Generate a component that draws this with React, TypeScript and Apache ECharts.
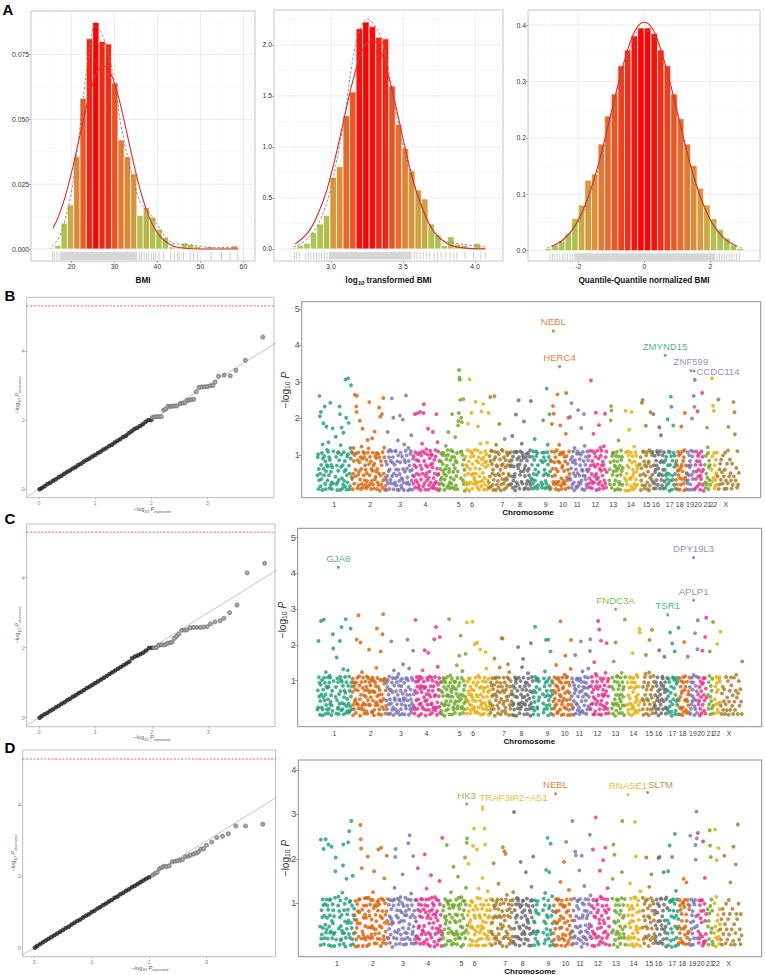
import React, { useEffect, useRef } from "react";
import * as echarts from "echarts";

const FONT = "'Liberation Sans', Arial, sans-serif";
const NARROW = "'Liberation Sans Narrow', 'Liberation Sans', Arial, sans-serif";

// ---------------- Panel A : histograms ----------------
const bmiBinStart = 14.65;
const bmiBinWidth = 1.47;
const bmiDensity = [0.0004, 0.0014, 0.010, 0.017, 0.0356, 0.058, 0.081, 0.0873, 0.080, 0.079, 0.064, 0.042, 0.0356, 0.029, 0.013, 0.016, 0.0123, 0.0077, 0.0044, 0.0008, 0.0004, 0.0023, 0.0017, 0.001, 0.0005, 0.001, 0.0002, 0.0005, 0.0006, 0.0013];
const bmiNormal = [[15.7, 0.008], [17, 0.0126], [18.5, 0.0199], [20, 0.0293], [21.5, 0.0402], [23, 0.0514], [24.5, 0.0613], [26, 0.0681], [27.5, 0.0705], [29, 0.0681], [30.5, 0.0613], [32, 0.0514], [33.5, 0.0402], [35, 0.0293], [36.5, 0.0199], [38, 0.0126], [39.5, 0.0075], [41, 0.0041], [43, 0.0017], [45, 0.0006], [48, 0.0001], [52, 0], [58.8, 0]];
const bmiKde = [[15.5, 0.001], [17, 0.004], [18.5, 0.011], [20, 0.022], [21.5, 0.040], [23, 0.062], [24.5, 0.080], [25.5, 0.086], [27, 0.083], [28.5, 0.076], [30, 0.064], [31.5, 0.048], [33, 0.036], [34.5, 0.026], [36, 0.018], [37.5, 0.015], [39, 0.012], [40.5, 0.008], [42, 0.0045], [44, 0.002], [46, 0.0018], [48, 0.0015], [50, 0.001], [53, 0.0006], [56, 0.0006], [58.5, 0.0005]];
const bmiRugTicks = [15.6, 16.0, 16.6, 17.1, 35.8, 36.3, 36.9, 37.4, 38.0, 38.6, 39.1, 39.5, 40.4, 41.4, 43.0, 44.0, 44.7, 45.2, 46.1, 47.6, 48.4, 49.4, 52.5, 54.9, 56.9, 58.7];
const bmiRugBand = [17.4, 35.3];
const bmiXTicks = [20, 30, 40, 50, 60];
const bmiXMinor = [15, 25, 35, 45, 55];
const bmiYTicks = [0, 0.025, 0.05, 0.075];
const bmiYMinor = [0.0125, 0.0375, 0.0625, 0.0875];

const logBinStart = 2.72;
const logBinWidth = 0.0454;
const logDensity = [0.013, 0.033, 0.056, 0.16, 0.245, 0.327, 0.703, 0.807, 1.307, 1.539, 2.16, 2.225, 2.18, 2.075, 2.06, 1.598, 1.222, 0.987, 0.765, 0.578, 0.49, 0.245, 0.137, 0.033, 0.12, 0.046, 0.036, 0.01, 0.056, 0.013];
const logNormal = [[2.75, 0.05], [2.85, 0.18], [2.95, 0.49], [3.0, 0.73], [3.05, 1.02], [3.1, 1.34], [3.15, 1.64], [3.2, 1.88], [3.25, 2.02], [3.3, 2.035], [3.35, 1.92], [3.4, 1.69], [3.45, 1.40], [3.5, 1.08], [3.55, 0.78], [3.6, 0.53], [3.7, 0.20], [3.8, 0.058], [3.9, 0.013], [4.07, 0.001]];
const logKde = [[2.74, 0.02], [2.8, 0.06], [2.87, 0.15], [2.93, 0.3], [3.0, 0.6], [3.05, 0.95], [3.1, 1.35], [3.15, 1.85], [3.2, 2.15], [3.25, 2.25], [3.3, 2.2], [3.35, 2.05], [3.4, 1.75], [3.45, 1.35], [3.5, 1.0], [3.55, 0.75], [3.6, 0.55], [3.65, 0.35], [3.7, 0.2], [3.75, 0.1], [3.85, 0.06], [3.95, 0.04], [4.07, 0.02]];
const logRugTicks = [2.745, 2.76, 2.78, 2.824, 2.843, 2.86, 2.88, 2.90, 2.917, 2.935, 2.954, 2.972, 3.579, 3.597, 3.618, 3.641, 3.664, 3.687, 3.715, 3.74, 3.764, 3.796, 3.826, 3.852, 3.873, 3.93, 3.99, 4.04, 4.07];
const logRugBand = [2.986, 3.56];
const logXTicks = [3.0, 3.5, 4.0];
const logXMinor = [2.75, 3.25, 3.75];
const logYTicks = [0, 0.5, 1.0, 1.5, 2.0];
const logYMinor = [0.25, 0.75, 1.25, 1.75, 2.25];

const qnBinStart = -3.0;
const qnBinWidth = 0.2;
const qnDensity = [0.004, 0.010, 0.018, 0.030, 0.057, 0.081, 0.125, 0.136, 0.189, 0.239, 0.278, 0.328, 0.356, 0.381, 0.395, 0.395, 0.385, 0.356, 0.328, 0.278, 0.234, 0.189, 0.151, 0.111, 0.081, 0.057, 0.038, 0.022, 0.010, 0.004];
const qnNormal = [[-2.8, 0.008], [-2.5, 0.0178], [-2.2, 0.036], [-2.0, 0.0548], [-1.8, 0.0802], [-1.6, 0.1125], [-1.4, 0.1514], [-1.2, 0.197], [-1.0, 0.2455], [-0.8, 0.2937], [-0.6, 0.3375], [-0.4, 0.3741], [-0.2, 0.3977], [0, 0.405], [0.2, 0.3977], [0.4, 0.3741], [0.6, 0.3375], [0.8, 0.2937], [1.0, 0.2455], [1.2, 0.197], [1.4, 0.1514], [1.6, 0.1125], [1.8, 0.0802], [2.0, 0.0548], [2.2, 0.036], [2.5, 0.0178], [2.8, 0.008]];
const qnKde = [[-2.95, 0.005], [-2.5, 0.016], [-2.1, 0.042], [-1.7, 0.09], [-1.3, 0.165], [-0.9, 0.265], [-0.5, 0.345], [-0.1, 0.392], [0.3, 0.38], [0.7, 0.315], [1.1, 0.22], [1.5, 0.13], [1.9, 0.068], [2.3, 0.03], [2.7, 0.011], [2.95, 0.005]];
const qnRugTicks = [-2.86, -2.78, -2.71, -2.64, -2.56, -2.47, -2.4, -2.33, -2.25, -2.17, 2.2, 2.28, 2.35, 2.42, 2.5, 2.57, 2.65, 2.72, 2.8, 2.88];
const qnRugBand = [-2.12, 2.15];
const qnXTicks = [-2, 0, 2];
const qnXMinor = [-3, -1, 1, 3];
const qnYTicks = [0, 0.1, 0.2, 0.3, 0.4];
const qnYMinor = [0.05, 0.15, 0.25, 0.35];

// ---------------- Panels B-D : QQ plots ----------------
const qqBDense = [[0.01, 0], [0.05, 0.04], [0.1, 0.09], [0.15, 0.15], [0.2, 0.19], [0.25, 0.25], [0.3, 0.29], [0.35, 0.35], [0.4, 0.39], [0.45, 0.45], [0.5, 0.5], [0.55, 0.54], [0.6, 0.6], [0.65, 0.64], [0.7, 0.7], [0.75, 0.74], [0.8, 0.8], [0.85, 0.85], [0.9, 0.89], [0.95, 0.95], [1.0, 0.99], [1.05, 1.05], [1.1, 1.09], [1.15, 1.15], [1.2, 1.19], [1.25, 1.25], [1.3, 1.29], [1.35, 1.35], [1.4, 1.4], [1.45, 1.45], [1.5, 1.51], [1.55, 1.55], [1.6, 1.62], [1.65, 1.68], [1.7, 1.74], [1.75, 1.78], [1.8, 1.83], [1.85, 1.88], [1.9, 1.95], [1.95, 2.0], [2.0, 2.0]];
const qqBTail = [[2.02, 2.08], [2.06, 2.09], [2.1, 2.1], [2.14, 2.1], [2.18, 2.1], [2.22, 2.29], [2.26, 2.32], [2.3, 2.4], [2.34, 2.4], [2.38, 2.4], [2.42, 2.41], [2.46, 2.41], [2.52, 2.48], [2.56, 2.49], [2.6, 2.5], [2.64, 2.57], [2.68, 2.58], [2.72, 2.59], [2.76, 2.6], [2.8, 2.82], [2.85, 2.95], [2.9, 2.96], [2.95, 2.96], [3.0, 2.97], [3.05, 2.99], [3.1, 3.0], [3.14, 3.1], [3.2, 3.27], [3.3, 3.3], [3.41, 3.28], [3.51, 3.44], [3.68, 3.73], [3.99, 4.4]];
const qqCDense = [[0.01, 0], [0.05, 0.05], [0.1, 0.1], [0.15, 0.14], [0.2, 0.2], [0.25, 0.24], [0.3, 0.3], [0.35, 0.34], [0.4, 0.4], [0.45, 0.44], [0.5, 0.5], [0.55, 0.54], [0.6, 0.6], [0.65, 0.64], [0.7, 0.7], [0.75, 0.74], [0.8, 0.79], [0.85, 0.85], [0.9, 0.89], [0.95, 0.94], [1.0, 0.99], [1.05, 1.04], [1.1, 1.09], [1.15, 1.14], [1.2, 1.19], [1.25, 1.25], [1.3, 1.3], [1.35, 1.35], [1.4, 1.4], [1.45, 1.45], [1.5, 1.5], [1.55, 1.55], [1.6, 1.6], [1.65, 1.7], [1.7, 1.75], [1.75, 1.78], [1.8, 1.82], [1.85, 1.86], [1.9, 1.92], [1.95, 1.99], [2.0, 2.0]];
const qqCTail = [[2.04, 2.0], [2.08, 2.0], [2.12, 2.07], [2.16, 2.08], [2.2, 2.08], [2.24, 2.09], [2.28, 2.13], [2.32, 2.14], [2.36, 2.16], [2.4, 2.27], [2.44, 2.33], [2.48, 2.39], [2.53, 2.5], [2.58, 2.5], [2.62, 2.51], [2.68, 2.57], [2.74, 2.58], [2.8, 2.58], [2.86, 2.58], [2.92, 2.59], [2.98, 2.6], [3.04, 2.68], [3.12, 2.74], [3.21, 2.77], [3.28, 2.84], [3.38, 3.0], [3.51, 3.22], [3.69, 4.14], [4.0, 4.41]];
const qqDDense = [[0.01, 0], [0.05, 0.05], [0.1, 0.1], [0.15, 0.15], [0.2, 0.2], [0.25, 0.25], [0.3, 0.3], [0.35, 0.35], [0.4, 0.4], [0.45, 0.45], [0.5, 0.5], [0.55, 0.55], [0.6, 0.59], [0.65, 0.65], [0.7, 0.7], [0.75, 0.75], [0.8, 0.79], [0.85, 0.85], [0.9, 0.9], [0.95, 0.94], [1.0, 1.0], [1.05, 1.04], [1.1, 1.1], [1.15, 1.14], [1.2, 1.2], [1.25, 1.24], [1.3, 1.3], [1.35, 1.34], [1.4, 1.4], [1.45, 1.44], [1.5, 1.5], [1.55, 1.54], [1.6, 1.6], [1.65, 1.64], [1.7, 1.7], [1.75, 1.74], [1.8, 1.79], [1.85, 1.84], [1.9, 1.89], [1.95, 1.94], [2.0, 1.98]];
const qqDTail = [[2.06, 2.04], [2.1, 2.08], [2.14, 2.12], [2.18, 2.22], [2.22, 2.25], [2.26, 2.29], [2.3, 2.28], [2.35, 2.3], [2.4, 2.41], [2.45, 2.43], [2.49, 2.44], [2.54, 2.46], [2.58, 2.48], [2.63, 2.55], [2.68, 2.57], [2.72, 2.6], [2.77, 2.63], [2.82, 2.66], [2.86, 2.69], [2.9, 2.77], [2.95, 2.78], [3.0, 2.88], [3.09, 2.97], [3.18, 3.09], [3.28, 3.13], [3.38, 3.2], [3.51, 3.42], [3.68, 3.42], [3.98, 3.47]];
const qqDiagonal = [[-0.5, -0.5], [4.5, 4.5]];
const suggestiveLine = 5.3;
const qqXTicks = [0, 1, 2, 3];
const qqYTicks = [0, 2, 4];

// ---------------- Panels B-D : Manhattan plots ----------------
const chromNames = ["1", "2", "3", "4", "5", "6", "7", "8", "9", "10", "11", "12", "13", "14", "15", "16", "17", "18", "19", "20", "21", "22", "X"];
const chromLengthMb = [249, 243, 198, 191, 181, 171, 159, 146, 141, 136, 135, 134, 115, 107, 103, 90, 81, 78, 59, 63, 48, 51, 155];
const chromLabelMb = [122, 381, 597, 779, 1017, 1113, 1333, 1458, 1643, 1767, 1871, 2000, 2129, 2257, 2369, 2436, 2535, 2607, 2681, 2739, 2806, 2849, 2940];
// one character per SNP along each chromosome (-log10 P):
//   digits 0-9 => bulk band 0.0-1.15 in steps of 0.115; letters a-z => 1.0-3.5 in steps of 0.1;
//   the next character's digit gives the hundredths; "." => no SNP
const CODE = "0123456789abcdefghijklmnopqrstuvwxyz";
const manhattanB = [
  "38a052qk41l6290c7i538n1704h6b259d3807o146205h19.....3e81602a4927nl0c58h3061f92471u5k0382aui6041b7s93",
  "2904b718q35anlq0739146j2805c17h0938a26150742d91b6o3817052e491606g283479052a14m80k3716l092p4b8031",
  "70263g194805b2719p368k04162a951370d85024k6913082j520c7469q185320b7160489f25037",
  "1836l092574l2a07139l60285c941ln719036b4258h03147962a0865g130741982l05d394017",
  "0527a318649140285c376098g1452073b18l09462805e7136904hjlxvuo93kai862p1750",
  "38162059i4170u52a8l39064183b25o417209h680352c91l7624n80316957a0d261l",
  "2083p71a96415027p9380c61592408i375016b2964180e25730928614a37159",
  "6173f082593401k92a7615o80639472c91847j053608a1724905382b1o",
  "3062819407e251a8390614......720916j38a507241s09c6381l047",
  "07ai35n2l16938052b1q4702c68h913056a19248170fq83265k094",
  "3k275o08169420b736510894m12a37618h2504937l0c3628150947",
  "5183096u240719f62a358l40296317i052b849613706c25l18094",
  "......2516jnm0839a47160258493705d821603974815",
  ".....30l924160a85g730291l683504c1709284615",
  ".....638025o1o94a70613h859204670b13l5928",
  "392l0618450726a91538h4069f2713850692",
  "50738142j61940a62p8n0372h9158406",
  "271604938503a15h62947180bl32604",
  "419260385716b03j8294q0nu",
  "0629471l835a17036294q8150",
  "...620841h3b9057261",
  "...5u82n3l9061274391",
  "3.p0.516.27.4.18.3.05a.2.06.19h.3.7.42.06.1.o3.lf.2.5.09.1.4",
];
const manhattanC = [
  "162k948037q52a0164q93805c2716940718b29350261mi8.....470g39182053k96a1o8317d046295r08241c7309612o4817",
  "590281736408l3a62s19740k518c2693150628471b06392i582746a1093860158273do4927051638i0352m8s4179a062",
  "3817a052964063k815920c743916082951b740386172905e438042619a5l3870d2516409318i25",
  "2061q839571840a296730592c71846i370153928h615b047293086172l4951o8203d76492m08",
  "61305849270a28136495172r048b36590472168308365e192473g805m4192c50863174h3",
  "40q1836a5290715264q38162k093751k48b20693i52703184606931h8d2471590362",
  "308174926517g0a539482607193d5804l71l62935812064739e490c27185360",
  "527301694880a461j2930718523d64f9304728163805b9174260k31958",
  "204613o9587a21903846........530917c48l261850l39274i06185",
  "8036194257e29071a63851q48029367042b5g81939602815740dl2",
  "4918203756h063a29148720591k8361c470826953805169d2471il",
  "1729583046f041b729836q50o1729l038526491752c06k3184907",
  "......719306f2840k513a982650741935c08264702q9",
  ".....281506943a70182h5920681347b4095271on3",
  ".....417038295bh06417380cl295164o0719832",
  "250817394601i36528074a91736g58206419",
  "6149082n35710k294a68i0513792840o",
  "392047185602a81k639714083g52609",
  "70518293648b402n173960iq",
  "529370184607i28a5139m06r4",
  "...51829i04736190q2",
  "...4072958k16309a83n",
  "2.05.71.36.0.29.14.8.03.61.a7.2.50.93.1.6b.4.05.8.2.6.3.0f",
];
const manhattanD = [
  "40o1725938m06184o2935817n04a62930m5184726029hk1.....8b3705914163c2in07285019f3647n52qa1904s381g06275",
  "629015384702a694rom1h7302581964158b02k39706183925419c37h08263508a17l9284160m39570921f486307k5194",
  "183609257450a4819d3km0617295834907b25168g380516297062819n374p159c08263k4071592",
  "50921h73841607a8259330741k8269d158062947025g1973864810b265937052913e8416302o",
  "271803594605m9a128376491c305827i082516493062f819751840b263905729k18d3no4",
  "62i7048153904a1m73q6258031l9740d1629583417f50382q6n049172c5831607294",
  "304925i8176082a15937e26108459370m4186l52k930b72618407591368209c",
  "1u3720584962a9184037j158269a4307261g839551480372690d5928k3",
  "50491726831a306...........729508c14h362o5917g803n261b470",
  "28150369470492a71538e603918257j14802n6935071c842619305",
  "s3071952l4k608a39175h294130k586208d719431570629384p2b6",
  "41803l9276025t19a68372054h1b396180j52947m306819d25740",
  "......29f3n05k714826930a5182640719gs358261940",
  ".....8162047e3951806275019sbk340682915370c",
  ".....397160852a4k1937602d58149g371908526",
  "7142093685k08k251a9436071g8352940b17",
  "52h047m891360k29a7158p40c6193705",
  "40928173651a08f3792406e51928307",
  "81p049362705a1839mj6uo41",
  "p630918257a4920n7108f5126",
  "...740516qm8k293710",
  "...28q4019j5163m2074",
  "3.15.0.7.26.k.4.08.3.1.5.92.6.e.0.3.7.1m.4.0.2i.6.5.r.8.1.3.06.2",
];
// [chromosome index, position in chromosome (Mb), -log10 P, gene]
const hitsB = [[9, 19, 4.40, "NEBL"], [9, 64, 3.42, "HERC4"], [16, 3, 3.73, "ZMYND15"], [18, 30, 3.31, "ZNF599"], [18, 52, 3.30, "CCDC114"]];
const hitsC = [[0, 150, 4.17, "GJA8"], [18, 28, 4.44, "DPY19L3"], [18, 28, 3.25, "APLP1"], [12, 45, 3.00, "FNDC3A"], [16, 2, 2.84, "TSR1"]];
const hitsD = [[4, 174, 3.23, "HK3"], [5, 108, 3.17, "TRAF3IP2\u2212AS1"], [5, 108, 3.11, ""], [9, 16, 3.46, "NEBL"], [13, 17, 3.44, "RNASE1"], [14, 51, 3.49, "SLTM"]];
const manYTicksBC = [1, 2, 3, 4, 5];
const manYTicksD = [1, 2, 3, 4];

const dark2 = ["#1B9E77", "#D95F02", "#7570B3", "#E7298A", "#66A61E", "#E6AB02", "#A6761D", "#666666"];
const labelPlacement: Record<string, any> = {
  CCDC114: { position: "right", distance: 1, offset: [0, 0] },
  "TRAF3IP2\u2212AS1": { position: "top", distance: 2.5, offset: [31, 0] },
  SLTM: { position: "top", distance: 2.5, offset: [13, 1] },
};

const chromStartMb: number[] = [];
chromLengthMb.reduce((acc, l) => { chromStartMb.push(acc); return acc + l; }, 0);

const fillStops: [number, number[]][] = [[0, [165, 200, 85]], [0.15, [178, 191, 80]], [0.22, [205, 164, 67]], [0.33, [217, 150, 58]], [0.45, [224, 128, 51]], [0.6, [232, 104, 42]], [0.72, [238, 82, 33]], [0.85, [242, 58, 26]], [0.95, [247, 28, 16]], [1, [255, 0, 0]]];
function fillFor(t: number) {
  t = Math.max(0, Math.min(1, t));
  for (let i = 1; i < fillStops.length; i++) {
    if (t <= fillStops[i][0]) {
      const [t0, c0] = fillStops[i - 1];
      const [t1, c1] = fillStops[i];
      const f = (t - t0) / (t1 - t0);
      const c = c0.map((v, k) => Math.round(v + (c1[k] - v) * f));
      return `rgb(${c[0]},${c[1]},${c[2]})`;
    }
  }
  return "rgb(255,0,0)";
}

function decodeValue(ch: string) {
  const k = CODE.indexOf(ch);
  return k < 10 ? k * 0.115 : k / 10;
}

function decodeManhattan(strs: string[]) {
  const out: number[][] = [];
  strs.forEach((s, ci) => {
    const n = s.length;
    for (let i = 0; i < n; i++) {
      const ch = s[i];
      if (ch === ".") continue;
      const nx = CODE.indexOf(s[(i + 1) % n]);
      const hund = nx < 0 ? 5 : nx % 10;
      out.push([chromStartMb[ci] + ((i + 0.5) / n) * chromLengthMb[ci], decodeValue(ch) + hund / 100 + 0.02, ci]);
    }
  });
  return out;
}

function buildOption() {
  const grid: any[] = [];
  const xAxis: any[] = [];
  const yAxis: any[] = [];
  const series: any[] = [];
  const graphic: any[] = [];

  const axis = (gi: number, min: number, max: number, ticks: number[], o: any) => ({
    gridIndex: gi, type: "value", min, max,
    axisLine: { show: false, onZero: false },
    axisTick: { show: o.tickLen > 0, length: o.tickLen, customValues: ticks, lineStyle: { color: o.tickColor || "#666", width: 0.7 } },
    axisLabel: { show: true, customValues: ticks, fontSize: o.fontSize, color: o.color, margin: o.margin, fontFamily: o.font || FONT, formatter: o.formatter },
    splitLine: { show: false },
  });

  const addGrid = (left: number, top: number, width: number, height: number, border: string) => {
    grid.push({ left, top, width, height, show: true, borderColor: border, borderWidth: 1, backgroundColor: "#ffffff" });
    return grid.length - 1;
  };

  // ---------- histograms ----------
  const hist = (cfg: any) => {
    const gi = addGrid(cfg.left, cfg.top, cfg.width, cfg.height, "#c4c4c4");
    xAxis.push(axis(gi, cfg.xr[0], cfg.xr[1], cfg.xTicks, { tickLen: 2, fontSize: 6.8, color: "#333", margin: 2, formatter: cfg.xFmt, tickColor: "#888" }));
    yAxis.push(axis(gi, cfg.yr[0], cfg.yr[1], cfg.yTicks, { tickLen: 2, fontSize: 6.8, color: "#333", margin: 2, formatter: cfg.yFmt, tickColor: "#888" }));
    const gl = (xs: number[], ys: number[], color: string, w: number) => ({
      type: "custom", xAxisIndex: gi, yAxisIndex: gi, z: 1, silent: true,
      data: [...xs.map((v) => [v, cfg.yr[0], 0]), ...ys.map((v) => [cfg.xr[0], v, 1])],
      encode: { x: 0, y: 1 },
      renderItem: (params: any, api: any) => {
        const cs = params.coordSys;
        const p = api.coord([api.value(0), api.value(1)]);
        if (api.value(2) === 0) return { type: "line", shape: { x1: p[0], y1: cs.y, x2: p[0], y2: cs.y + cs.height }, style: { stroke: color, lineWidth: w } };
        return { type: "line", shape: { x1: cs.x, y1: p[1], x2: cs.x + cs.width, y2: p[1] }, style: { stroke: color, lineWidth: w } };
      },
    });
    series.push(gl(cfg.xMinor, cfg.yMinor, "#f3f3f3", 0.6));
    series.push(gl(cfg.xTicks, cfg.yTicks, "#e6e6e6", 0.8));
    const hmax = Math.max(...cfg.heights);
    series.push({
      type: "custom", xAxisIndex: gi, yAxisIndex: gi, z: 2, silent: true,
      data: cfg.heights.map((h: number, i: number) => [cfg.start + i * cfg.bw, cfg.start + (i + 1) * cfg.bw, h]),
      encode: { x: [0, 1], y: 2 },
      renderItem: (params: any, api: any) => {
        const a = api.coord([api.value(0), 0]);
        const b = api.coord([api.value(1), api.value(2)]);
        return { type: "rect", shape: { x: a[0], y: b[1], width: b[0] - a[0], height: Math.max(a[1] - b[1], 0.6) }, style: { fill: fillFor(api.value(2) / hmax), stroke: "#ffffff", lineWidth: 0.7 } };
      },
    });
    series.push({
      type: "custom", xAxisIndex: gi, yAxisIndex: gi, z: 2, silent: true,
      data: [...cfg.rugTicks.map((x: number) => [x, x, cfg.rugY[0], cfg.rugY[1]]), [cfg.rugBand[0], cfg.rugBand[1], cfg.rugY[0], cfg.rugY[1]]],
      encode: { x: [0, 1], y: [2, 3] },
      renderItem: (params: any, api: any) => {
        const a = api.coord([api.value(0), api.value(2)]);
        const b = api.coord([api.value(1), api.value(3)]);
        const w = b[0] - a[0];
        return { type: "rect", shape: { x: w < 0.8 ? a[0] - 0.4 : a[0], y: a[1], width: Math.max(w, 0.8), height: b[1] - a[1] }, style: { fill: w < 0.8 ? "#c4c4c4" : "#d6d6d6" } };
      },
    });
    series.push({ type: "line", xAxisIndex: gi, yAxisIndex: gi, z: 3, data: cfg.kde, smooth: 0.4, symbol: "none", silent: true, lineStyle: { color: "#808080", width: 0.9, type: [2.5, 2] } });
    series.push({ type: "line", xAxisIndex: gi, yAxisIndex: gi, z: 4, data: cfg.normal, smooth: 0.4, symbol: "none", silent: true, lineStyle: { color: "#e42a2a", width: 1.1 } });
  };

  hist({ left: 31, top: 11, width: 224, height: 250, xr: [10.6, 62.7], yr: [-0.0046, 0.0917], start: bmiBinStart, bw: bmiBinWidth, heights: bmiDensity, normal: bmiNormal, kde: bmiKde, rugTicks: bmiRugTicks, rugBand: bmiRugBand, rugY: [-0.001, -0.0042], xTicks: bmiXTicks, xMinor: bmiXMinor, yTicks: bmiYTicks, yMinor: bmiYMinor, xFmt: (v: number) => String(v), yFmt: (v: number) => v.toFixed(3) });
  hist({ left: 274, top: 10, width: 229, height: 251, xr: [2.604, 4.194], yr: [-0.118, 2.343], start: logBinStart, bw: logBinWidth, heights: logDensity, normal: logNormal, kde: logKde, rugTicks: logRugTicks, rugBand: logRugBand, rugY: [-0.03, -0.1], xTicks: logXTicks, xMinor: logXMinor, yTicks: logYTicks, yMinor: logYMinor, xFmt: (v: number) => v.toFixed(1), yFmt: (v: number) => v.toFixed(1) });
  hist({ left: 528, top: 10, width: 232, height: 251, xr: [-3.524, 3.506], yr: [-0.0183, 0.4268], start: qnBinStart, bw: qnBinWidth, heights: qnDensity, normal: qnNormal, kde: qnKde, rugTicks: qnRugTicks, rugBand: qnRugBand, rugY: [-0.0047, -0.0178], xTicks: qnXTicks, xMinor: qnXMinor, yTicks: qnYTicks, yMinor: qnYMinor, xFmt: (v: number) => String(v), yFmt: (v: number) => v.toFixed(1) });

  // ---------- QQ plots ----------
  const qq = (cfg: any) => {
    const gi = addGrid(cfg.left, cfg.top, cfg.width, cfg.height, "#bdbdbd");
    xAxis.push(axis(gi, cfg.xr[0], cfg.xr[1], qqXTicks, { tickLen: 2, fontSize: 5.5, color: "#888", margin: 2, tickColor: "#aaa", formatter: (v: number) => String(v) }));
    yAxis.push(axis(gi, cfg.yr[0], cfg.yr[1], qqYTicks, { tickLen: 2, fontSize: 5.5, color: "#888", margin: 2, tickColor: "#aaa", formatter: (v: number) => String(v) }));
    series.push({ type: "line", xAxisIndex: gi, yAxisIndex: gi, z: 2, data: qqDiagonal, symbol: "none", silent: true, clip: true, lineStyle: { color: "#b5b5b5", width: 0.8 } });
    series.push({ type: "line", xAxisIndex: gi, yAxisIndex: gi, z: 2, data: [[cfg.xr[0], suggestiveLine], [cfg.xr[1], suggestiveLine]], symbol: "none", silent: true, lineStyle: { color: "#f04848", width: 0.9, type: [2, 1.6] } });
    series.push({ type: "scatter", xAxisIndex: gi, yAxisIndex: gi, z: 3, data: cfg.dense, symbol: "circle", symbolSize: 4.6, silent: true, itemStyle: { color: "#1a1a1a" } });
    series.push({ type: "scatter", xAxisIndex: gi, yAxisIndex: gi, z: 3, data: cfg.tail, symbol: "emptyCircle", symbolSize: 3, silent: true, itemStyle: { color: "#777777", borderWidth: 0.7 } });
  };
  qq({ left: 26.7, top: 297.3, width: 247.3, height: 200.4, xr: [-0.22, 4.19], yr: [-0.243, 5.549], dense: qqBDense, tail: qqBTail });
  qq({ left: 26.7, top: 524, width: 248.3, height: 202.7, xr: [-0.218, 4.184], yr: [-0.257, 5.534], dense: qqCDense, tail: qqCTail });
  qq({ left: 22.7, top: 750, width: 252.8, height: 206.7, xr: [-0.202, 4.202], yr: [-0.253, 5.553], dense: qqDDense, tail: qqDTail });

  // ---------- Manhattan plots ----------
  const manhattan = (cfg: any) => {
    const gi = addGrid(cfg.left, cfg.top, cfg.width, cfg.height, "#8e8e8e");
    xAxis.push(axis(gi, cfg.xr[0], cfg.xr[1], chromLabelMb, { tickLen: 0, fontSize: 7, color: "#444", margin: 3.5, font: NARROW, formatter: (v: number) => { const i = chromLabelMb.indexOf(v); return i >= 0 ? chromNames[i] : ""; } }));
    yAxis.push(axis(gi, cfg.yr[0], cfg.yr[1], cfg.yTicks, { tickLen: 3, fontSize: 9, color: "#555", margin: 2, tickColor: "#777", formatter: (v: number) => String(v) }));
    series.push({
      type: "scatter", xAxisIndex: gi, yAxisIndex: gi, z: 3, silent: true, symbolSize: 3.9,
      data: decodeManhattan(cfg.strs),
      itemStyle: { color: (p: any) => dark2[p.data[2] % 8] },
    });
    series.push({
      type: "scatter", xAxisIndex: gi, yAxisIndex: gi, z: 4, silent: true, symbolSize: 3,
      data: cfg.hits.map((h: any[]) => {
        const [ci, pos, v, gene] = h;
        const pl = labelPlacement[gene] || { position: "top", distance: 2.5, offset: [0, 0] };
        return {
          value: [chromStartMb[ci] + pos, v],
          itemStyle: { color: dark2[ci % 8] },
          label: { show: gene !== "", formatter: gene, color: dark2[ci % 8], fontSize: 9.6, fontFamily: FONT, position: pl.position, distance: pl.distance, offset: pl.offset },
        };
      }),
    });
  };
  manhattan({ left: 301.7, top: 301.7, width: 459, height: 196, xr: [-112, 3190], yr: [-0.17, 5.2], yTicks: manYTicksBC, strs: manhattanB, hits: hitsB });
  manhattan({ left: 297.7, top: 528.3, width: 464, height: 198.4, xr: [-140, 3172], yr: [-0.285, 5.26], yTicks: manYTicksBC, strs: manhattanC, hits: hitsC });
  manhattan({ left: 298.3, top: 760, width: 463.4, height: 196.7, xr: [-156, 3178], yr: [-0.2, 4.22], yTicks: manYTicksD, strs: manhattanD, hits: hitsD });

  // ---------- texts ----------
  const txt = (x: number, y: number, text: string, rich: any, extra: any = {}) => ({
    type: "text", x, y, z: 10, silent: true, ...extra,
    style: { text, rich, align: "center", verticalAlign: "middle", fontFamily: FONT, fill: "#000" },
  });
  const letter = (l: string, x: number, y: number) => txt(x, y, `{l|${l}}`, { l: { fontSize: 15, fontWeight: "bold", fontFamily: FONT, fill: "#000" } });
  graphic.push(letter("A", 8, 9), letter("B", 10, 295), letter("C", 10, 518), letter("D", 10, 747));
  const titleRich = {
    b: { fontSize: 8.2, fontWeight: "bold", fontFamily: NARROW, fill: "#111", lineHeight: 11, verticalAlign: "middle" },
    s: { fontSize: 6, fontWeight: "bold", fontStyle: "italic", fontFamily: NARROW, fill: "#111", lineHeight: 11, verticalAlign: "bottom", padding: [4, 0, 0, 0] },
  };
  graphic.push(txt(143, 280, "{b|BMI}", titleRich));
  graphic.push(txt(388.5, 280, "{b|log}{s|10}{b| transformed BMI}", titleRich));
  graphic.push(txt(644, 280, "{b|Quantile-Quantile normalized BMI}", titleRich));
  const qqRich = {
    n: { fontSize: 5.6, fill: "#555", fontFamily: FONT, lineHeight: 8, verticalAlign: "middle" },
    i: { fontSize: 5.6, fill: "#555", fontStyle: "italic", fontFamily: FONT, lineHeight: 8, verticalAlign: "middle" },
    s: { fontSize: 4, fill: "#555", fontStyle: "italic", fontFamily: FONT, lineHeight: 8, verticalAlign: "bottom", padding: [3, 0, 0, 0] },
  };
  const qqX = (x: number, y: number) => txt(x, y, "{n|\u2212log}{s|10}{i| P}{s|expected}", qqRich);
  const qqY = (x: number, y: number) => txt(x, y, "{n|\u2212log}{s|10}{i| P}{s|observed}", qqRich, { rotation: Math.PI / 2 });
  graphic.push(qqX(152, 509), qqX(151.7, 737.3), qqX(150, 967.5));
  graphic.push(qqY(17, 395), qqY(17, 625), qqY(13, 853));
  const manRich = {
    n: { fontSize: 10, fill: "#333", fontFamily: FONT, lineHeight: 12, verticalAlign: "middle" },
    i: { fontSize: 10, fill: "#333", fontStyle: "italic", fontFamily: FONT, lineHeight: 12, verticalAlign: "middle" },
    s: { fontSize: 7, fill: "#333", fontFamily: FONT, lineHeight: 12, verticalAlign: "bottom", padding: [4, 0, 0, 0] },
  };
  const manY = (x: number, y: number) => txt(x, y, "{n|\u2212log}{s|10}{i| P}", manRich, { rotation: Math.PI / 2 });
  graphic.push(manY(285, 390), manY(282, 620), manY(285, 858));
  const chromRich = { c: { fontSize: 8, fontWeight: "bold", fontFamily: NARROW, fill: "#111" } };
  graphic.push(txt(528, 512.8, "{c|Chromosome}", chromRich), txt(529.3, 741, "{c|Chromosome}", chromRich), txt(530, 971.3, "{c|Chromosome}", chromRich));

  return { animation: false, backgroundColor: "#ffffff", grid, xAxis, yAxis, series, graphic };
}

export default function App() {
  const ref = useRef<HTMLDivElement>(null);
  useEffect(() => {
    const chart = echarts.init(ref.current!, undefined, { renderer: "svg" });
    chart.setOption(buildOption() as any);
    return () => chart.dispose();
  }, []);
  return <div ref={ref} style={{ position: "absolute", left: 0, top: 0, width: 765, height: 975, background: "#fff" }} />;
}
